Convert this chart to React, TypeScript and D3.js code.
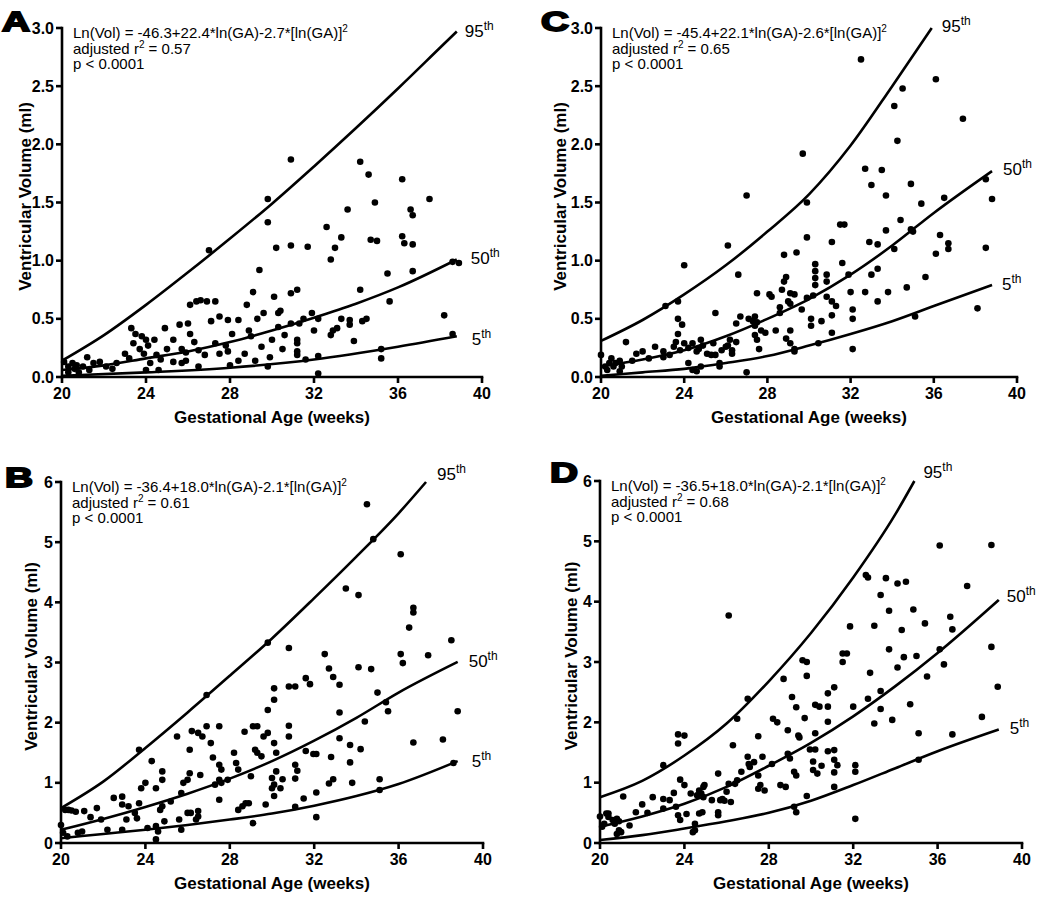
import React from "react";
import * as d3 from "d3";

const FONT = "'Liberation Sans', Arial, Helvetica, sans-serif";

// ---------- DATA ----------
const xTicks = [20, 24, 28, 32, 36, 40];
const yTicksAC = [0, 0.5, 1.0, 1.5, 2.0, 2.5, 3.0];
const yTicksBD = [0, 1, 2, 3, 4, 5, 6];

const pointsA: [number, number][] = [
  [20.1,0.13],[20.3,0.09],[20.5,0.12],[20.7,0.10],[21.0,0.09],[20.3,0.04],[20.8,0.04],[21.2,0.17],[21.5,0.12],[21.8,0.13],
  [22.1,0.09],[22.4,0.07],[22.6,0.12],[23.0,0.20],[23.2,0.16],[23.3,0.42],[23.5,0.37],[23.4,0.29],[23.7,0.24],[24.0,0.32],
  [23.9,0.20],[24.4,0.32],[24.5,0.19],[24.9,0.42],[25.0,0.24],[25.3,0.32],[25.6,0.45],[25.7,0.24],[26.0,0.46],[26.1,0.37],
  [26.1,0.62],[26.4,0.65],[26.6,0.66],[26.9,0.65],[27.3,0.65],[27.0,1.09],[27.1,0.48],[27.5,0.52],[27.9,0.49],[26.5,0.23],
  [26.8,0.19],[27.5,0.20],[27.8,0.27],[28.1,0.37],[28.4,0.49],[28.8,0.62],[29.1,0.73],[29.4,0.92],[29.8,1.53],[29.8,1.33],
  [30.2,1.11],[30.1,0.69],[29.6,0.55],[29.0,0.35],[28.7,0.20],[28.4,0.14],[29.2,0.14],[29.5,0.26],[29.8,0.09],[30.0,0.32],
  [30.3,0.43],[25.7,0.12],[25.3,0.13],[24.6,0.06],[24.0,0.06],[26.5,0.09],[25.9,0.14],[24.2,0.12],[27.9,0.22],[27.3,0.29],
  [24.1,0.27],[23.8,0.35],[24.7,0.15],[25.9,0.21],[26.3,0.30],[28.0,0.10],[28.9,0.40],[29.3,0.50],[20.6,0.07],[21.3,0.06],
  [30.9,1.87],[30.9,1.13],[31.7,1.12],[32.6,1.29],[33.3,1.20],[33.0,1.11],[32.8,1.01],[33.6,1.44],[34.2,1.85],[34.6,1.74],
  [34.9,1.50],[34.7,1.18],[35.0,1.17],[36.2,1.70],[36.6,1.44],[36.7,1.39],[36.2,1.21],[36.3,1.15],[36.7,1.14],[37.5,1.53],
  [35.5,0.89],[36.7,0.91],[34.2,0.75],[35.6,0.65],[38.2,0.53],[38.6,0.99],[38.9,0.98],[38.6,0.37],[35.2,0.24],[35.2,0.16],
  [33.9,0.31],[33.3,0.50],[33.7,0.49],[33.7,0.45],[34.3,0.48],[34.5,0.50],[32.8,0.36],[32.9,0.40],[33.1,0.42],[32.0,0.40],
  [32.2,0.50],[31.9,0.55],[31.3,0.46],[30.9,0.46],[31.6,0.15],[31.2,0.32],[31.2,0.29],[31.2,0.22],[31.2,0.19],[30.9,0.72],
  [31.2,0.75],[30.3,0.55],[30.4,0.57],[30.5,0.24],[29.9,0.17],[32.2,0.18],[32.2,0.03],[30.6,0.36],[31.5,0.50],
];

const pointsC: [number, number][] = [
  [20.0,0.19],[20.2,0.09],[20.4,0.12],[20.3,0.06],[20.6,0.09],[20.7,0.12],[20.9,0.14],[21.0,0.09],[20.9,0.05],[20.5,0.16],
  [21.2,0.30],[21.5,0.14],[21.7,0.20],[22.0,0.22],[22.3,0.16],[22.6,0.26],[23.0,0.22],[23.0,0.17],[23.1,0.61],[23.3,0.19],
  [23.7,0.65],[23.7,0.50],[23.9,0.45],[23.7,0.37],[24.0,0.96],[23.5,0.26],[23.6,0.30],[23.8,0.23],[24.0,0.29],[24.2,0.25],
  [24.4,0.29],[24.6,0.22],[24.7,0.24],[24.8,0.32],[24.9,0.27],[24.2,0.12],[24.4,0.06],[24.6,0.05],[24.8,0.09],[25.1,0.20],
  [25.3,0.19],[25.4,0.29],[25.5,0.19],[25.5,0.55],[25.7,0.12],[25.7,0.09],[25.8,0.23],[26.0,0.26],[26.1,0.27],[26.2,0.32],
  [26.1,1.13],[26.3,0.20],[26.3,0.23],[26.6,0.88],[26.5,0.30],[26.7,0.52],[26.5,0.46],[27.0,0.04],[27.0,1.56],[27.1,0.50],
  [27.3,0.48],[27.4,0.44],[27.4,0.52],[27.5,0.47],[27.4,0.36],[27.5,0.32],[27.6,0.24],[27.5,0.72],[27.7,0.40],[27.9,0.38],
  [28.1,0.71],[28.2,0.69],[28.4,0.40],[28.6,0.55],[28.6,0.60],[28.7,0.75],[28.8,0.82],[28.9,0.86],[28.8,1.05],[29.4,1.07],
  [29.1,0.72],[29.3,0.71],[29.0,0.65],[29.1,0.63],[29.1,0.40],[29.1,0.29],[29.3,0.24],[29.3,0.22],[28.9,0.33],
  [32.5,2.73],[36.1,2.56],[34.5,2.48],[34.1,2.33],[37.4,2.22],[34.25,2.03],[29.7,1.92],[32.7,1.79],[33.5,1.78],[33.0,1.65],
  [33.7,1.56],[34.9,1.66],[35.4,1.49],[36.5,1.54],[38.5,1.70],[38.8,1.53],[29.9,1.50],[31.5,1.31],[31.7,1.31],[34.4,1.35],
  [33.7,1.26],[34.9,1.27],[35.0,1.25],[36.3,1.22],[36.7,1.15],[36.7,1.10],[36.1,1.06],[38.5,1.11],[29.9,1.20],[31.1,1.16],
  [32.9,1.16],[33.3,1.14],[34.1,1.10],[30.3,0.97],[30.3,0.91],[30.3,0.85],[30.3,0.79],[30.85,0.88],[30.85,0.82],[31.6,0.98],
  [31.9,0.88],[33.0,0.88],[33.3,0.93],[35.6,0.86],[34.7,0.77],[33.8,0.73],[32.7,0.73],[32.0,0.73],[33.3,0.65],[30.85,0.69],
  [31.1,0.65],[31.3,0.61],[31.1,0.53],[32.1,0.58],[32.1,0.50],[35.1,0.52],[38.1,0.59],[30.1,0.50],[30.1,0.44],[30.6,0.48],
  [31.1,0.38],[32.1,0.24],[30.45,0.29],[29.9,0.68],[30.2,0.70],[29.65,0.58],
];

const pointsB: [number, number][] = [
  [20.0,0.30],[20.1,0.17],[20.3,0.11],[20.2,0.55],[20.35,0.55],[20.5,0.54],[20.7,0.52],[20.8,0.17],[21.0,0.19],[21.1,0.53],
  [21.4,0.43],[21.7,0.58],[21.9,0.39],[22.2,0.22],[22.5,0.75],[22.9,0.77],[22.9,0.64],[22.9,0.22],[23.1,0.39],[23.2,0.61],
  [23.5,0.50],[23.6,0.41],[23.7,0.66],[23.7,1.55],[23.8,0.91],[24.0,1.00],[24.1,0.25],[24.3,1.36],[24.5,0.28],[24.6,0.19],
  [24.5,0.06],[24.5,0.91],[24.7,0.55],[24.8,0.61],[24.8,1.19],[24.8,1.05],[24.9,0.36],[25.2,0.69],[25.5,1.77],[25.6,0.39],
  [25.7,0.22],[25.7,0.83],[25.8,1.00],[26.0,1.05],[26.1,1.55],[26.1,1.16],[26.0,0.50],[26.15,0.50],[26.2,1.86],[26.4,0.39],
  [26.5,0.44],[26.5,1.83],[26.6,1.13],[26.5,0.53],[26.7,1.77],[26.9,2.46],[26.9,1.94],[27.1,1.66],[27.2,1.42],[27.3,0.97],
  [27.5,1.94],[27.5,1.30],[27.5,1.05],[27.6,1.00],[27.5,0.72],[27.6,1.22],[27.9,1.05],[28.2,1.50],[28.3,1.33],[28.4,1.22],
  [28.4,0.55],[28.6,0.61],[28.7,1.85],[28.9,0.66],[28.75,0.66],[29.1,1.94],[29.3,1.94],[29.1,0.33],[29.0,1.11],[29.2,1.55],
  [29.3,1.50],[29.5,1.44],[29.6,1.77],[29.7,0.64],[29.8,2.21],[30.1,2.38],[30.1,2.57],[30.1,1.66],[30.0,0.91],[30.1,0.97],
  [29.8,3.33],
  [34.5,5.63],[34.8,5.05],[36.1,4.80],[33.5,4.23],[34.1,4.12],[36.7,3.91],[36.7,3.83],[36.5,3.58],[38.5,3.37],[30.8,3.24],
  [32.5,3.14],[36.1,3.14],[36.2,2.99],[37.4,3.12],[32.7,2.90],[34.1,2.92],[34.7,2.89],[31.6,2.74],[31.8,2.64],[32.9,2.76],
  [33.2,2.63],[30.8,2.60],[31.1,2.60],[33.2,2.17],[35.0,2.50],[35.4,2.34],[35.5,2.19],[38.8,2.19],[38.1,1.72],[36.7,1.67],
  [34.4,2.02],[33.2,1.74],[33.7,1.63],[34.2,1.56],[31.6,1.53],[31.96,1.48],[32.1,1.48],[32.8,1.43],[33.7,1.34],[30.8,1.95],
  [30.8,1.77],[29.8,1.83],[30.2,1.50],[31.1,1.30],[31.2,1.20],[31.1,1.07],[30.2,1.19],[30.0,1.08],[30.5,1.06],[30.4,0.91],
  [30.1,0.78],[31.1,0.60],[31.5,0.74],[32.1,0.84],[32.7,0.99],[32.9,1.06],[33.8,1.00],[32.1,0.43],[35.1,1.06],[35.1,0.88],
  [38.6,1.33],
];

const pointsD: [number, number][] = [
  [20.0,0.44],[20.1,0.27],[20.2,0.32],[20.3,0.49],[20.4,0.43],[20.6,0.38],[20.7,0.32],[20.8,0.40],[20.9,0.36],[20.4,0.49],
  [20.9,0.21],[20.8,0.15],[21.0,0.18],[21.1,0.77],[21.4,0.29],[21.7,0.51],[22.0,0.64],[22.25,0.50],[22.5,0.76],[23.0,0.57],
  [23.0,0.73],[23.0,1.29],[23.3,0.71],[23.5,0.83],[23.6,0.60],[23.7,0.46],[23.7,1.80],[23.7,1.65],[23.8,1.05],[24.0,1.78],
  [24.0,0.96],[23.8,0.38],[24.1,0.48],[24.3,0.82],[24.4,0.18],[24.5,0.21],[24.5,0.32],[24.6,0.79],[24.7,0.87],[24.9,0.93],
  [24.95,0.96],[24.7,0.49],[24.85,0.51],[24.8,0.82],[24.9,0.76],[25.3,0.71],[25.6,0.51],[25.6,0.46],[25.6,1.15],[25.7,0.71],
  [25.8,0.73],[25.9,0.70],[26.0,0.85],[26.1,3.77],[26.1,0.98],[26.3,1.62],[26.2,0.68],[26.4,0.98],[26.5,1.04],[26.5,2.06],
  [26.7,1.18],[27.0,2.39],[27.0,1.43],[27.05,1.31],[27.1,1.26],[27.3,1.34],[27.5,0.90],[27.6,0.96],[27.5,1.77],[27.5,1.12],
  [27.7,1.43],[27.8,0.87],[28.15,1.31],[28.2,2.06],[28.4,2.00],[28.55,0.96],[28.7,2.72],[28.9,1.48],[29.0,1.40],[28.8,0.93],
  [29.1,2.42],[29.3,2.25],[28.9,1.87],[29.2,1.18],[29.3,1.12],[29.2,0.60],[29.3,0.51],[29.4,1.78],[29.45,1.75],
  [36.1,4.93],[38.55,4.94],[32.6,4.44],[32.7,4.40],[33.55,4.39],[34.1,4.30],[34.5,4.33],[37.4,4.26],[33.3,4.11],[34.85,3.87],
  [33.7,3.85],[36.6,3.75],[35.4,3.64],[36.7,3.54],[31.85,3.59],[33.0,3.60],[34.3,3.53],[33.7,3.21],[34.4,3.08],[35.0,3.10],
  [36.1,3.21],[36.3,2.96],[38.55,3.25],[34.1,2.91],[31.5,3.14],[31.7,3.14],[31.5,3.00],[32.8,2.82],[35.5,2.76],[29.6,3.03],
  [29.8,3.00],[29.8,2.77],[31.1,2.58],[30.8,2.48],[38.85,2.59],[32.7,2.39],[33.3,2.52],[32.0,2.26],[30.2,2.29],[30.4,2.26],
  [30.8,2.26],[33.3,2.22],[34.7,2.30],[29.7,2.07],[30.8,2.01],[33.0,1.98],[33.85,2.04],[38.1,2.09],[30.2,1.82],[35.1,1.82],
  [36.7,1.80],[29.95,1.55],[30.2,1.55],[30.8,1.52],[31.1,1.54],[31.1,1.38],[31.25,1.29],[30.1,1.35],[30.1,1.21],[30.3,1.15],
  [30.5,1.28],[31.1,1.17],[32.1,1.29],[32.1,1.18],[31.1,0.93],[29.8,0.78],[35.1,1.38],[32.1,0.40],
];

// percentile curves
const a95: [number, number][] = [[20,0.14],[22,0.36],[24,0.62],[26,0.90],[28,1.19],[30,1.49],[32,1.81],[34,2.14],[36,2.48],[38,2.83],[38.8,2.97]];
const a50: [number, number][] = [[20,0.06],[22,0.10],[24,0.16],[26,0.22],[28,0.30],[30,0.40],[32,0.51],[34,0.63],[36,0.77],[38.8,1.01]];
const a05: [number, number][] = [[20,0.01],[24,0.04],[28,0.08],[32,0.15],[36,0.26],[38.8,0.35]];

const c95: [number, number][] = [[20,0.31],[22,0.49],[24,0.71],[26,0.96],[28,1.25],[30,1.57],[32,1.99],[34,2.50],[35.9,3.0]];
const c50: [number, number][] = [[20,0.09],[22,0.15],[24,0.23],[26,0.35],[28,0.50],[30,0.67],[32,0.88],[34,1.13],[36,1.41],[38.8,1.77]];
const c05: [number, number][] = [[20,0.01],[22,0.04],[24,0.07],[26,0.12],[28,0.18],[30,0.27],[32,0.37],[34,0.48],[36,0.61],[38.8,0.79]];

const b95: [number, number][] = [[20,0.58],[22,1.02],[24,1.58],[26,2.17],[28,2.78],[30,3.40],[32,4.07],[34,4.76],[36,5.48],[37.3,6.0]];
const b50: [number, number][] = [[20,0.22],[22,0.40],[24,0.60],[26,0.82],[28,1.07],[30,1.36],[32,1.70],[34,2.08],[36,2.50],[38.8,3.01]];
const b05: [number, number][] = [[20,0.08],[22,0.15],[24,0.22],[26,0.30],[28,0.39],[30,0.49],[32,0.62],[34,0.78],[36,0.98],[38.8,1.36]];

const d95: [number, number][] = [[20,0.76],[22,1.03],[24,1.45],[26,1.98],[28,2.68],[30,3.48],[32,4.40],[34,5.45],[34.9,6.0]];
const d50: [number, number][] = [[20,0.27],[22,0.44],[24,0.65],[26,0.93],[28,1.28],[30,1.66],[32,2.10],[34,2.60],[36,3.15],[38.9,4.03]];
const d05: [number, number][] = [[20,0.05],[22,0.13],[24,0.24],[26,0.36],[28,0.50],[30,0.70],[32,0.96],[34,1.24],[36,1.52],[38.9,1.88]];

const percentileNames = ["95", "50", "5"];
const equationsMain = [
  "Ln(Vol) = -46.3+22.4*ln(GA)-2.7*[ln(GA)]",
  "Ln(Vol) = -36.4+18.0*ln(GA)-2.1*[ln(GA)]",
  "Ln(Vol) = -45.4+22.1*ln(GA)-2.6*[ln(GA)]",
  "Ln(Vol) = -36.5+18.0*ln(GA)-2.1*[ln(GA)]",
];
const r2Values = ["0.57", "0.61", "0.65", "0.68"];
const pValue = "p < 0.0001";
const panelLetters = ["A", "B", "C", "D"];
const xTitle = "Gestational Age (weeks)";
const yTitle = "Ventricular Volume (ml)";

// ---------- LAYOUT ----------
type PanelCfg = {
  letter: string; x0: number; x1: number; yb: number; yt: number; yMax: number;
  yTicks: number[]; fmt: (v: number) => string; points: [number, number][];
  curves: [number, number][][]; labelOff: [number, number][];
  eq: string; r2: string; letterX: number; letterY: number; titleOff: number;
};

const fmt1 = (v: number) => v.toFixed(1);
const fmt0 = (v: number) => String(v);

const panels: PanelCfg[] = [
  { letter: panelLetters[0], x0: 62, x1: 482, yb: 377, yt: 28, yMax: 3, yTicks: yTicksAC, fmt: fmt1,
    points: pointsA, curves: [a95, a50, a05], labelOff: [[8, 6], [14, 4], [15, 9]],
    eq: equationsMain[0], r2: r2Values[0], letterX: 2, letterY: 31, titleOff: 31 },
  { letter: panelLetters[1], x0: 61, x1: 483, yb: 843, yt: 482, yMax: 6, yTicks: yTicksBD, fmt: fmt0,
    points: pointsB, curves: [b95, b50, b05], labelOff: [[11, -2], [11, 5], [14, 6]],
    eq: equationsMain[1], r2: r2Values[1], letterX: 5, letterY: 487, titleOff: 24 },
  { letter: panelLetters[2], x0: 601, x1: 1017, yb: 377, yt: 28, yMax: 3, yTicks: yTicksAC, fmt: fmt1,
    points: pointsC, curves: [c95, c50, c05], labelOff: [[10, 4], [11, 4], [10, 5]],
    eq: equationsMain[2], r2: r2Values[2], letterX: 541, letterY: 31, titleOff: 35 },
  { letter: panelLetters[3], x0: 600, x1: 1022, yb: 843, yt: 481, yMax: 6, yTicks: yTicksBD, fmt: fmt0,
    points: pointsD, curves: [d95, d50, d05], labelOff: [[9, -3], [8, 2], [11, 4]],
    eq: equationsMain[3], r2: r2Values[3], letterX: 550, letterY: 482, titleOff: 23 },
];

function Panel({ p }: { p: PanelCfg }) {
  const xs = d3.scaleLinear().domain([20, 40]).range([p.x0, p.x1]);
  const ys = d3.scaleLinear().domain([0, p.yMax]).range([p.yb, p.yt]);
  const line = d3.line<[number, number]>().x(d => xs(d[0])).y(d => ys(d[1])).curve(d3.curveMonotoneX);
  const sw = 2.6;
  const tx = p.x0 + 11;
  const ty = p.yt + 10;
  return (
    <g>
      <line x1={p.x0} y1={p.yb} x2={p.x0} y2={p.yt} stroke="#000" strokeWidth={sw} strokeLinecap="square" />
      <line x1={p.x0} y1={p.yb} x2={p.x1} y2={p.yb} stroke="#000" strokeWidth={sw} strokeLinecap="square" />
      {p.yTicks.map(t => (
        <g key={"y" + t}>
          <line x1={p.x0 - 6} x2={p.x0} y1={ys(t)} y2={ys(t)} stroke="#000" strokeWidth={sw} />
          <text x={p.x0 - 8} y={ys(t) + 5.5} textAnchor="end" fontFamily={FONT} fontWeight="bold" fontSize={16}>{p.fmt(t)}</text>
        </g>
      ))}
      {xTicks.map(t => (
        <g key={"x" + t}>
          <line x1={xs(t)} x2={xs(t)} y1={p.yb} y2={p.yb + 6} stroke="#000" strokeWidth={sw} />
          <text x={xs(t)} y={p.yb + 22} textAnchor="middle" fontFamily={FONT} fontWeight="bold" fontSize={16}>{t}</text>
        </g>
      ))}
      <text x={(p.x0 + p.x1) / 2} y={p.yb + 46} textAnchor="middle" fontFamily={FONT} fontWeight="bold" fontSize={17}>{xTitle}</text>
      <text transform={`translate(${p.x0 - p.titleOff},${(p.yb + p.yt) / 2 - 6}) rotate(-90)`} textAnchor="middle" fontFamily={FONT} fontWeight="bold" fontSize={17}>{yTitle}</text>

      {p.curves.map((c, i) => (
        <path key={"c" + i} d={line(c) || ""} fill="none" stroke="#000" strokeWidth={2.6} />
      ))}
      {p.curves.map((c, i) => {
        const end = c[c.length - 1];
        const [dx, dy] = p.labelOff[i];
        return (
          <text key={"l" + i} x={xs(end[0]) + dx} y={ys(end[1]) + dy} fontFamily={FONT} fontSize={17}>
            {percentileNames[i]}
            <tspan dy={-7} fontSize={12}>th</tspan>
          </text>
        );
      })}

      {p.points.map((d, i) => (
        <circle key={"p" + i} cx={xs(d[0])} cy={ys(d[1])} r={3.3} fill="#000" />
      ))}

      <text x={tx} y={ty} fontFamily={FONT} fontSize={15}>
        {p.eq}
        <tspan dy={-6} fontSize={10}>2</tspan>
      </text>
      <text x={tx} y={ty + 15.5} fontFamily={FONT} fontSize={15}>
        adjusted r<tspan dy={-6} fontSize={10}>2</tspan><tspan dy={6}> = {p.r2}</tspan>
      </text>
      <text x={tx} y={ty + 31} fontFamily={FONT} fontSize={15}>{pValue}</text>

      <text x={p.letterX} y={p.letterY} fontFamily={FONT} fontWeight="bold" fontSize={27}
        stroke="#000" strokeWidth={1.8} textLength={28} lengthAdjust="spacingAndGlyphs">{p.letter}</text>
    </g>
  );
}

export default function App() {
  return (
    <svg width={1050} height={900} viewBox="0 0 1050 900"
      style={{ position: "absolute", left: 0, top: 0, background: "#fff" }}>
      <rect x={0} y={0} width={1050} height={900} fill="#fff" />
      {panels.map(p => <Panel key={p.letter} p={p} />)}
    </svg>
  );
}
